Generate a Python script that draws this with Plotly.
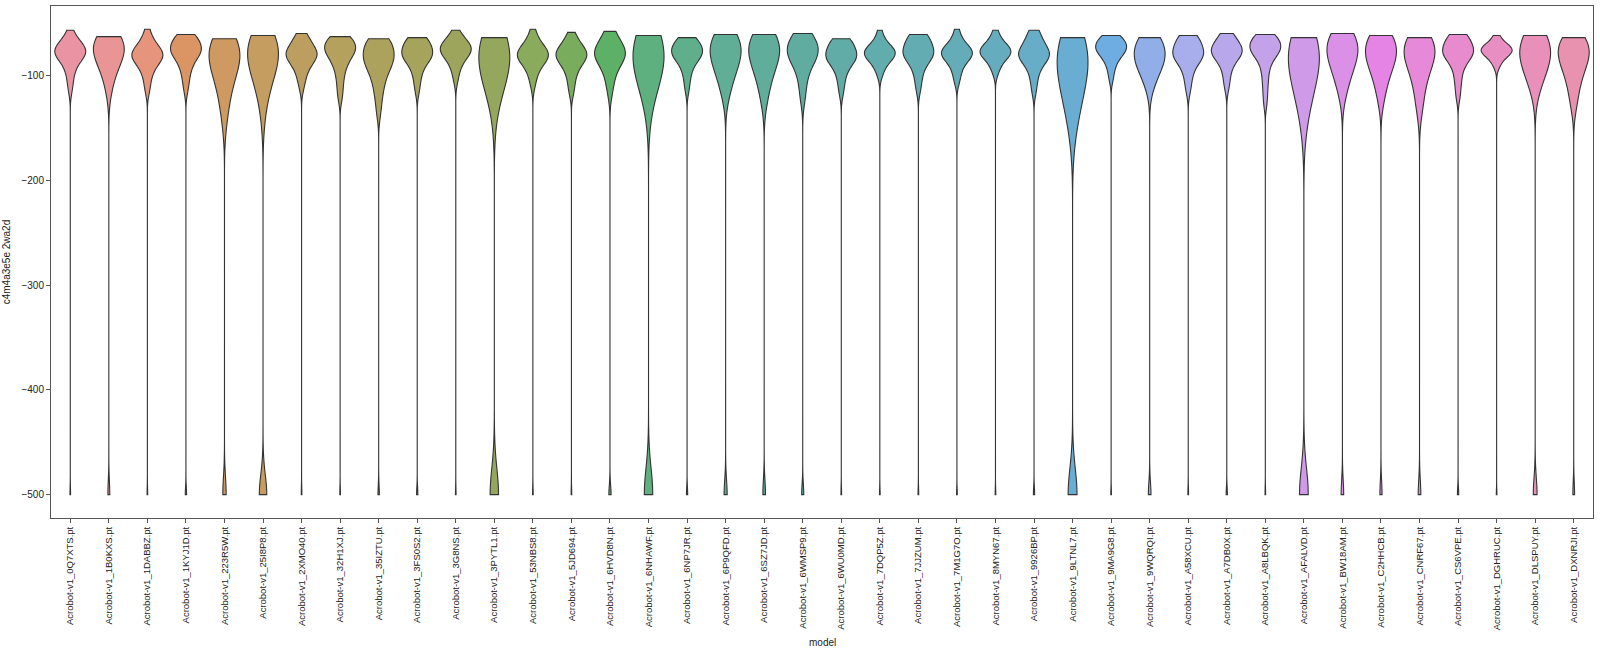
import math
import colorsys
import plotly.graph_objects as go

# evaluation returns per saved model (Acrobot-v1)
models = [
    "Acrobot-v1_0Q7XTS.pt", "Acrobot-v1_1B0KXS.pt", "Acrobot-v1_1DABBZ.pt", "Acrobot-v1_1KYJ1D.pt",
    "Acrobot-v1_223R5W.pt", "Acrobot-v1_25I8P8.pt", "Acrobot-v1_2XMO40.pt", "Acrobot-v1_32H1XJ.pt",
    "Acrobot-v1_35IZTU.pt", "Acrobot-v1_3FS0S2.pt", "Acrobot-v1_3G8NS.pt", "Acrobot-v1_3PYTL1.pt",
    "Acrobot-v1_53NBS8.pt", "Acrobot-v1_5JD694.pt", "Acrobot-v1_6HVD8N.pt", "Acrobot-v1_6NHAWF.pt",
    "Acrobot-v1_6NP7JR.pt", "Acrobot-v1_6P9QFD.pt", "Acrobot-v1_6SZ7JD.pt", "Acrobot-v1_6WMSP9.pt",
    "Acrobot-v1_6WU0MD.pt", "Acrobot-v1_7DQP5Z.pt", "Acrobot-v1_7JJZUM.pt", "Acrobot-v1_7M1G7O.pt",
    "Acrobot-v1_8MYN67.pt", "Acrobot-v1_9926BP.pt", "Acrobot-v1_9LTNL7.pt", "Acrobot-v1_9MA9G8.pt",
    "Acrobot-v1_9WQRQI.pt", "Acrobot-v1_A58XCU.pt", "Acrobot-v1_A7DB0X.pt", "Acrobot-v1_A8LBQK.pt",
    "Acrobot-v1_AFALVD.pt", "Acrobot-v1_BW18AM.pt", "Acrobot-v1_C2HHCB.pt", "Acrobot-v1_CNRF67.pt",
    "Acrobot-v1_CS6VPE.pt", "Acrobot-v1_DGHRUC.pt", "Acrobot-v1_DLSPUY.pt", "Acrobot-v1_DXNRJI.pt",
]

# returns of the episodes that did not time out
returns = [
    [-57, -63, -66, -68, -70, -72, -73, -74, -75, -76, -77, -78, -79, -80, -81, -82, -84, -86, -88, -91, -95, -100, -106, -114],
    [-63, -63, -64, -65, -66, -67, -69, -70, -72, -73, -75, -76, -78, -79, -81, -83, -85, -87, -90, -93, -97, -102, -108, -116],
    [-56, -63, -67, -70, -72, -74, -76, -77, -78, -79, -80, -81, -82, -83, -84, -85, -87, -89, -91, -94, -97, -102, -108, -115],
    [-61, -61, -62, -64, -66, -68, -70, -71, -73, -74, -75, -76, -77, -78, -79, -81, -83, -85, -88, -91, -95, -100, -106, -114],
    [-65, -65, -66, -67, -69, -71, -73, -75, -77, -79, -81, -83, -85, -87, -89, -92, -95, -98, -102, -106, -111, -117, -124, -132, -145],
    [-62, -62, -63, -64, -66, -68, -70, -72, -74, -76, -78, -80, -82, -84, -86, -88, -91, -94, -97, -101, -105, -110, -116, -123, -140],
    [-60, -62, -65, -68, -70, -72, -74, -76, -77, -78, -79, -80, -81, -82, -83, -84, -86, -88, -90, -93, -96, -100, -105, -112],
    [-63, -63, -64, -65, -67, -69, -70, -72, -73, -74, -75, -76, -77, -78, -80, -82, -84, -86, -89, -92, -96, -101, -107, -114, -122],
    [-65, -65, -66, -68, -70, -72, -74, -76, -78, -80, -82, -84, -85, -86, -88, -90, -92, -95, -98, -102, -106, -111, -117, -125, -136],
    [-64, -64, -65, -66, -68, -70, -72, -74, -75, -77, -78, -79, -80, -81, -82, -83, -85, -87, -89, -92, -96, -101, -107, -115],
    [-57, -62, -65, -67, -69, -70, -71, -72, -73, -74, -75, -76, -77, -78, -79, -80, -82, -84, -86, -89, -93, -98, -105],
    [-64, -64, -65, -66, -67, -69, -71, -73, -75, -77, -79, -81, -83, -85, -87, -89, -91, -94, -97, -100, -104, -108, -113, -119, -130],
    [-56, -63, -67, -70, -72, -74, -75, -77, -78, -79, -80, -81, -82, -83, -84, -85, -87, -89, -91, -94, -98, -103, -110],
    [-59, -64, -67, -70, -72, -74, -76, -77, -78, -79, -80, -81, -82, -83, -84, -86, -88, -90, -92, -95, -99, -104, -110, -117],
    [-58, -60, -63, -66, -69, -71, -73, -75, -76, -77, -78, -79, -80, -81, -82, -83, -85, -87, -89, -92, -95, -99, -104, -110, -118],
    [-62, -62, -63, -64, -66, -68, -70, -72, -74, -76, -78, -80, -82, -84, -86, -88, -90, -93, -96, -99, -103, -107, -112, -118, -130],
    [-64, -64, -65, -67, -69, -71, -72, -74, -75, -76, -77, -78, -79, -80, -81, -82, -84, -86, -88, -91, -95, -100, -106, -114],
    [-61, -61, -62, -63, -65, -67, -69, -71, -73, -75, -77, -79, -81, -83, -85, -87, -89, -92, -95, -99, -103, -108, -114, -121],
    [-61, -61, -62, -63, -65, -67, -69, -71, -73, -75, -77, -79, -81, -83, -85, -87, -90, -93, -96, -100, -105, -111, -118, -126],
    [-60, -60, -61, -63, -65, -67, -69, -71, -73, -75, -76, -77, -78, -79, -80, -81, -83, -85, -87, -90, -93, -97, -102, -108, -116, -124],
    [-65, -65, -66, -68, -70, -72, -74, -76, -77, -79, -80, -81, -82, -83, -84, -85, -87, -89, -91, -94, -98, -103, -109, -117],
    [-57, -64, -68, -71, -73, -74, -75, -76, -77, -78, -79, -80, -81, -82, -83, -84, -86, -88, -91, -95, -100],
    [-61, -61, -62, -64, -66, -68, -70, -72, -74, -75, -77, -78, -79, -80, -81, -82, -84, -86, -88, -91, -95, -100, -106, -114],
    [-56, -63, -67, -70, -72, -74, -75, -76, -77, -78, -79, -80, -81, -82, -83, -85, -87, -89, -92, -96, -101, -107],
    [-57, -63, -67, -70, -72, -73, -74, -75, -76, -77, -78, -79, -80, -81, -82, -84, -86, -89, -93, -98],
    [-57, -59, -62, -65, -68, -70, -72, -74, -76, -77, -78, -79, -80, -81, -82, -83, -84, -86, -88, -90, -93, -97, -102, -108, -116],
    [-64, -64, -65, -66, -68, -70, -73, -76, -79, -82, -85, -88, -91, -94, -97, -100, -103, -107, -111, -116, -121, -127, -134, -142, -155],
    [-62, -62, -63, -64, -66, -68, -69, -70, -71, -72, -73, -74, -75, -76, -77, -78, -79, -81, -83, -85, -88, -92, -97, -104],
    [-64, -64, -65, -66, -68, -70, -72, -74, -76, -78, -80, -82, -84, -85, -86, -88, -90, -92, -95, -98, -102, -107, -113],
    [-62, -62, -63, -65, -67, -69, -71, -73, -75, -76, -77, -79, -80, -81, -82, -83, -85, -87, -89, -92, -96, -101, -107, -115],
    [-60, -61, -63, -66, -68, -70, -72, -73, -74, -75, -76, -77, -78, -79, -80, -81, -83, -85, -87, -90, -94, -99, -105, -112],
    [-61, -61, -62, -63, -65, -67, -68, -70, -71, -72, -73, -74, -75, -76, -77, -78, -80, -82, -84, -87, -91, -96, -102, -109, -117, -127],
    [-64, -64, -65, -66, -67, -69, -71, -73, -75, -78, -81, -84, -87, -90, -93, -96, -99, -103, -107, -112, -118, -125, -133, -145],
    [-60, -60, -61, -62, -64, -66, -68, -70, -72, -74, -76, -78, -80, -82, -84, -86, -88, -91, -94, -98, -102, -107, -113, -120],
    [-62, -62, -63, -64, -66, -68, -70, -72, -74, -76, -78, -80, -82, -84, -86, -88, -90, -93, -96, -100, -105, -110, -117, -125],
    [-64, -64, -65, -66, -67, -69, -71, -73, -75, -77, -79, -81, -83, -85, -87, -90, -93, -96, -100, -105, -111, -118, -126, -135],
    [-61, -61, -62, -64, -66, -68, -70, -72, -73, -75, -76, -77, -78, -79, -80, -81, -83, -85, -87, -90, -94, -99, -105, -112, -121],
    [-62, -66, -69, -71, -72, -73, -74, -75, -75, -76, -76, -77, -78, -79, -80, -81, -83, -85, -88, -92],
    [-62, -62, -63, -64, -66, -68, -70, -72, -74, -76, -78, -80, -82, -84, -86, -88, -90, -93, -96, -100, -104, -109, -115],
    [-64, -64, -65, -66, -68, -70, -72, -74, -76, -78, -80, -82, -84, -86, -88, -90, -93, -96, -100, -104, -109, -115, -122, -131],
]

# each listed return stands for this many evaluation episodes
repeats = 4

# episodes that hit the 500 step limit (return -500)
n_timeout = [1, 4, 1, 2, 7, 17, 1, 1, 2, 2, 1, 22, 1, 1, 4, 22, 2, 6, 5, 4,
             1, 1, 1, 1, 1, 2, 20, 1, 5, 1, 2, 1, 20, 5, 4, 5, 2, 1, 8, 3]

# kde bandwidth used for each violin
kde_bw = [7, 13, 7, 7, 17, 19, 7, 7, 9, 7, 7, 25, 7, 7, 9, 25, 7, 14, 14, 10,
          7, 6, 7, 6, 6, 7, 25, 6, 12, 7, 7, 7, 25, 14, 13, 14, 7, 5, 16, 12]


# seaborn style husl palette
M = [[3.2406, -1.5372, -0.4986],
     [-0.9689, 1.8758, 0.0415],
     [0.0557, -0.2040, 1.0570]]


def max_chroma(L, H):
    sin_h, cos_h = math.sin(math.radians(H)), math.cos(math.radians(H))
    sub1 = (L + 16) ** 3 / 1560896.0
    sub2 = sub1 if sub1 > 0.008856 else L / 903.3
    result = float("inf")
    for m1, m2, m3 in M:
        top = (0.99915 * m1 + 1.05122 * m2 + 1.14460 * m3) * sub2
        rbottom = 0.86330 * m3 - 0.17266 * m2
        lbottom = 0.12949 * m3 - 0.38848 * m1
        bottom = (rbottom * sin_h + lbottom * cos_h) * sub2
        for t in (0.0, 1.0):
            c = L * (top - 1.05122 * t) / (bottom + 0.17266 * sin_h * t)
            if 0.0 < c < result:
                result = c
    return result


def husl_to_rgb(H, S, L):
    C = max_chroma(L, H) / 100.0 * S
    U = math.cos(math.radians(H)) * C
    V = math.sin(math.radians(H)) * C
    Y = ((L + 16) / 116.0) ** 3
    if Y <= 0.008856:
        Y = L / 903.3
    var_u = U / (13 * L) + 0.19784
    var_v = V / (13 * L) + 0.46834
    X = -(9 * Y * var_u) / ((var_u - 4) * var_v - var_u * var_v)
    Z = (9 * Y - 15 * var_v * Y - var_v * X) / (3 * var_v)
    rgb = []
    for r0, r1, r2 in M:
        c = r0 * X + r1 * Y + r2 * Z
        c = 12.92 * c if c <= 0.0031308 else 1.055 * c ** (1 / 2.4) - 0.055
        rgb.append(min(max(c, 0.0), 1.0))
    return rgb


def palette(n, saturation=0.75, alpha=0.85):
    cols = []
    for i in range(n):
        hue = ((i / n + 0.01) % 1) * 359
        r, g, b = husl_to_rgb(hue, 0.9 * 99, 0.65 * 99)
        h, l, s = colorsys.rgb_to_hls(r, g, b)
        r, g, b = colorsys.hls_to_rgb(h, l, s * saturation)
        cols.append("rgba(%d,%d,%d,%.2f)" % (round(r * 255), round(g * 255), round(b * 255), alpha))
    return cols


colors = palette(len(models))

fig = go.Figure()
for i, name in enumerate(models):
    vals = returns[i] * repeats + [-500] * n_timeout[i]
    fig.add_trace(go.Violin(
        x=[name] * len(vals), y=vals, name=name,
        spanmode="hard", bandwidth=kde_bw[i], scalemode="width", width=0.8,
        points=False, box_visible=False, meanline_visible=False,
        fillcolor=colors[i], line=dict(color="#333333", width=1.1),
        showlegend=False, hoverinfo="skip",
    ))

font = dict(family="Liberation Sans, Arial, sans-serif", size=10, color="#222222")
fig.update_layout(
    width=1600, height=653,
    margin=dict(l=51, r=7, t=6, b=135),
    plot_bgcolor="white", paper_bgcolor="white",
    violinmode="overlay",
    font=font,
    xaxis=dict(
        type="category", categoryorder="array", categoryarray=models,
        range=[-0.5, len(models) - 0.5], tickangle=-90, automargin=False,
        showline=True, linecolor="#555555", linewidth=1, mirror=True,
        ticks="outside", ticklen=4, tickcolor="#555555", showgrid=False,
        tickfont=dict(family=font["family"], size=9.5, color="#222222"),
    ),
    yaxis=dict(
        range=[-522.3, -33.8], dtick=100, tick0=-500, automargin=False,
        showline=True, linecolor="#555555", linewidth=1, mirror=True,
        ticks="outside", ticklen=4, tickcolor="#555555", showgrid=False, zeroline=False,
        tickfont=font,
    ),
    annotations=[
        dict(text="model", x=0.5, y=-0.243, xref="paper", yref="paper",
             xanchor="center", yanchor="middle", showarrow=False, font=font),
        dict(text="c4m4a3e5e 2wa2d", x=-0.029, y=0.5, xref="paper", yref="paper",
             xanchor="center", yanchor="middle", textangle=-90, showarrow=False, font=font),
    ],
)

# drop the default page margin so the figure sits at the window corner
fig.write_html("out.html", config={"displayModeBar": False},
               post_script="document.body.style.margin = '0px';")
